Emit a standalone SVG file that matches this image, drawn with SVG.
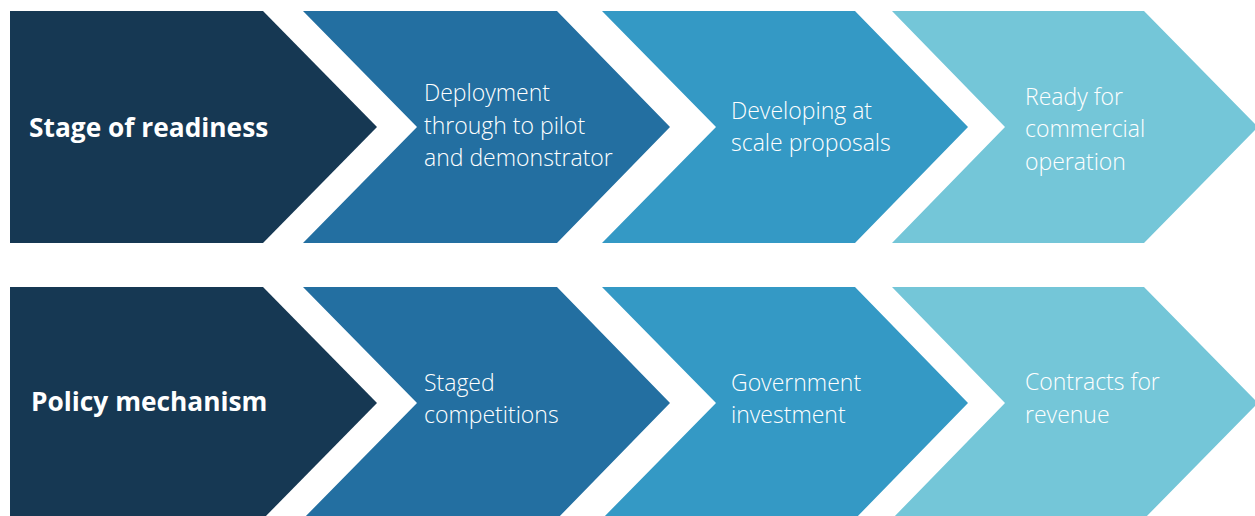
<svg xmlns="http://www.w3.org/2000/svg" width="1255" height="516" viewBox="0 0 1255 516">
<style>
.c1{fill:#163853}.c2{fill:#236FA1}.c3{fill:#3499C5}.c4{fill:#74C6D8}
.h{font-family:"Open Sans","Liberation Sans",sans-serif;font-weight:700;font-size:26.3px;fill:#fff}
.t{font-family:"Open Sans","Liberation Sans",sans-serif;font-weight:300;font-size:23px;fill:#fff}
</style>
<rect width="1255" height="516" fill="#fff"/>
<g id="row1">
<g id="stage-of-readiness"><polygon class="c1" points="10,11 263,11 377,127 263,243 10,243"/><text class="h" x="29" y="137">Stage of readiness</text></g>
<g id="deployment"><polygon class="c2" points="303,11 557,11 670,127 557,243 303,243 417,127"/><text class="t" x="424" y="101">Deployment</text><text class="t" x="424" y="134">through to pilot</text><text class="t" x="424" y="166">and demonstrator</text></g>
<g id="developing"><polygon class="c3" points="602,11 855,11 968,127 855,243 602,243 716,127"/><text class="t" x="731" y="119">Developing at</text><text class="t" x="731" y="151">scale proposals</text></g>
<g id="ready"><polygon class="c4" points="892,11 1144,11 1258,127 1144,243 892,243 1005,127"/><text class="t" x="1025" y="105">Ready for</text><text class="t" x="1025" y="137">commercial</text><text class="t" x="1025" y="170">operation</text></g>
</g>
<g id="row2">
<g id="policy-mechanism"><polygon class="c1" points="10,287 263,287 377,403 263,519 10,519"/><text class="h" x="31" y="411">Policy mechanism</text></g>
<g id="staged"><polygon class="c2" points="303,287 557,287 670,403 557,519 303,519 417,403"/><text class="t" x="424" y="391">Staged</text><text class="t" x="424" y="423">competitions</text></g>
<g id="government"><polygon class="c3" points="602,287 855,287 968,403 855,519 602,519 716,403"/><text class="t" x="731" y="391">Government</text><text class="t" x="731" y="423">investment</text></g>
<g id="contracts"><polygon class="c4" points="892,287 1144,287 1258,403 1144,519 892,519 1005,403"/><text class="t" x="1025" y="390">Contracts for</text><text class="t" x="1025" y="423">revenue</text></g>
</g>
<g id="connectors"/>
</svg>
